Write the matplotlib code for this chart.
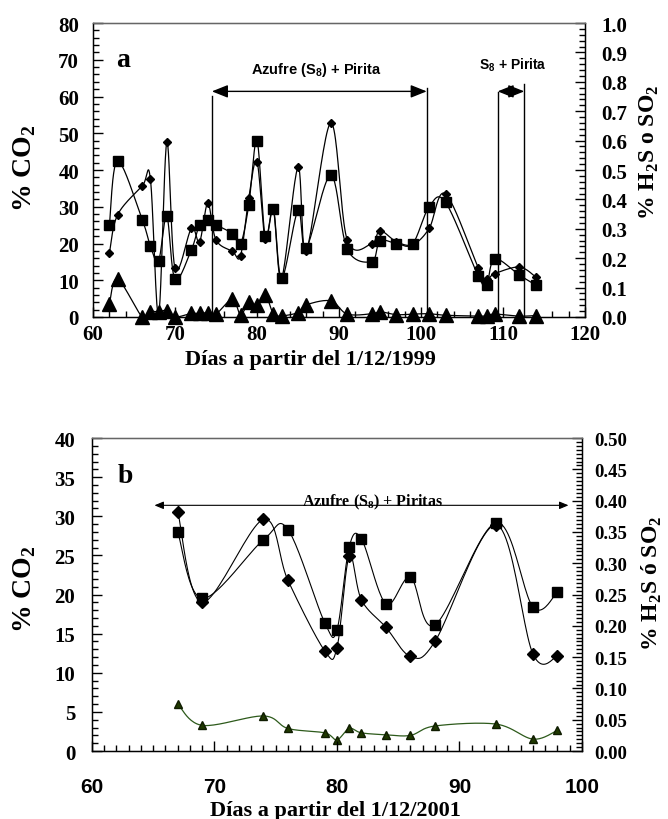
import numpy as np
import matplotlib
matplotlib.use("Agg")
import matplotlib.pyplot as plt
from matplotlib.ticker import MultipleLocator, FormatStrFormatter

plt.rcParams['mathtext.fontset'] = 'custom'
plt.rcParams['mathtext.rm'] = 'Liberation Serif:bold'
plt.rcParams['mathtext.bf'] = 'Liberation Serif:bold'
plt.rcParams['mathtext.sf'] = 'Liberation Sans:bold'

SERIF = 'Liberation Serif'
SANS = 'Liberation Sans'

# ---- panel a (1/12/1999) ----
dias_a = [62, 63, 66, 67, 68, 69, 70, 72, 73, 74, 75, 77, 78, 79, 80, 81, 82,
          83, 85, 86, 89, 91, 94, 95, 97, 99, 101, 103, 107, 108, 109, 112, 114]
cuadros_a = [25, 42.5, 26.5, 19.3, 15.3, 27.4, 10.3, 18.3, 25.1, 26.4, 25.1, 22.7,
             20, 30.5, 48, 22, 29.5, 10.5, 29, 18.7, 38.6, 18.5, 15.1, 20.7, 20,
             20, 30, 31.2, 11.1, 8.7, 15.8, 11.4, 8.7]
rombos_a = [17.4, 27.8, 35.6, 37.6, 0.5, 47.5, 13.3, 24.1, 20.5, 30.9, 21, 17.9,
            16.7, 32.4, 42.3, 21.2, 29, 10.5, 40.7, 18, 52.8, 21, 20, 23.5, 20.5,
            19.7, 24.1, 33.5, 13.4, 10.3, 11.8, 13.6, 10.9]
triang_a = [0.044, 0.129, 0.0, 0.018, 0.018, 0.022, 0.0, 0.012, 0.012, 0.015,
            0.010, 0.061, 0.008, 0.050, 0.041, 0.076, 0.011, 0.004, 0.015, 0.041,
            0.055, 0.010, 0.011, 0.018, 0.008, 0.010, 0.011, 0.006, 0.003, 0.004,
            0.010, 0.003, 0.005]

# ---- panel b (1/12/2001) ----
dias_b = [67, 69, 74, 76, 79, 80, 81, 82, 84, 86, 88, 93, 96, 98]
cuadros_b = [28, 19.5, 27, 28.3, 16.4, 15.5, 26.1, 27.1, 18.8, 22.2, 16.1, 29.2, 18.4, 20.3]
rombos_b = [30.6, 19.0, 29.6, 21.8, 12.8, 13.2, 24.9, 19.3, 15.8, 12.1, 14, 28.9, 12.4, 12.1]
triang_b = [0.075, 0.041, 0.056, 0.036, 0.029, 0.018, 0.036, 0.029, 0.026, 0.025,
            0.040, 0.043, 0.019, 0.033]


def smooth(x, y, n=24):
    """ Excel-like smoothed line through the points (Bezier segments) """
    p = np.column_stack([x, y]).astype(float)
    out = [p[0]]
    t = np.linspace(0, 1, n)[1:, None]
    for i in range(len(p) - 1):
        p0 = p[i - 1] if i > 0 else p[i]
        p3 = p[i + 2] if i + 2 < len(p) else p[i + 1]
        c1 = p[i] + (p[i + 1] - p0) / 6.0
        c2 = p[i + 1] - (p3 - p[i]) / 6.0
        seg = ((1 - t) ** 3) * p[i] + 3 * ((1 - t) ** 2) * t * c1 + 3 * (1 - t) * t ** 2 * c2 + t ** 3 * p[i + 1]
        out.extend(seg)
    out = np.array(out)
    return out[:, 0], out[:, 1]


def serie(ax, x, y, marker, ms, lw=0.9, color='black', mfc='black', mec='black'):
    sx, sy = smooth(x, y)
    ax.plot(sx, sy, color=color, lw=lw, zorder=3)
    ax.plot(x, y, ls='none', marker=marker, ms=ms, mfc=mfc, mec=mec, zorder=4, clip_on=False)


def bold_labels(labels, family, size):
    for lab in labels:
        lab.set_family(family)
        lab.set_weight('bold')
        lab.set_fontsize(size)


fig = plt.figure(figsize=(6.68, 8.2), dpi=100)

# ================= panel a =================
ax = fig.add_axes([0.1392, 0.6122, 0.7365, 0.3585])
ax2 = ax.twinx()
ax.set_xlim(60, 120)
ax.set_ylim(0, 80)
ax2.set_ylim(0, 1.0)
ax.set_zorder(ax2.get_zorder() + 1)
ax.patch.set_visible(False)

serie(ax, dias_a, cuadros_a, 's', 6.5)
serie(ax, dias_a, rombos_a, 'D', 4.3)
serie(ax2, dias_a, triang_a, '^', 9.5)

# zonas
ax.plot([74.5, 74.5], [0, 60.2], color='black', lw=1)
ax.plot([100.7, 100.7], [0, 62.2], color='black', lw=1)
ax.plot([109.35, 109.35], [0, 61.3], color='black', lw=1)
ax.plot([112.6, 112.6], [0, 63.4], color='black', lw=1)
flecha = dict(arrowstyle='<|-|>,head_length=0.75,head_width=0.3', color='black',
              lw=1, mutation_scale=13, shrinkA=0, shrinkB=0)
ax.annotate('', xy=(74.5, 61.4), xytext=(100.7, 61.4), arrowprops=flecha)
ax.annotate('', xy=(109.35, 61.4), xytext=(112.6, 61.4), arrowprops=flecha)
ax.text(87.2, 67.5, r'Azufre (S$_{\mathsf{8}}$) + Pirita', family=SANS, weight='bold',
        fontsize=10.5, ha='center', va='center')
ax.text(111.2, 68.8, r'S$_{\mathsf{8}}$ + Pirita', family=SANS, weight='bold',
        fontsize=10, ha='center', va='center')
ax.text(63.7, 70.2, 'a', family=SERIF, weight='bold', fontsize=20, ha='center', va='center')

ax.xaxis.set_major_locator(MultipleLocator(10))
ax.xaxis.set_minor_locator(MultipleLocator(2))
ax.yaxis.set_major_locator(MultipleLocator(10))
ax.yaxis.set_minor_locator(MultipleLocator(2))
ax2.yaxis.set_major_locator(MultipleLocator(0.1))
ax2.yaxis.set_minor_locator(MultipleLocator(0.02))
ax2.yaxis.set_major_formatter(FormatStrFormatter('%.1f'))
ax.tick_params(axis='both', which='both', direction='in')
ax.tick_params(which='major', length=7, width=1)
ax.tick_params(which='minor', length=4, width=1)
ax.tick_params(axis='y', pad=10)
ax.tick_params(axis='x', pad=5)
ax2.tick_params(which='both', direction='in', width=1)
ax2.tick_params(which='major', length=7, pad=12)
ax2.tick_params(which='minor', length=4)
bold_labels(ax.get_xticklabels() + ax.get_yticklabels() + ax2.get_yticklabels(), SERIF, 15)

ax.set_xlabel('Días a partir del 1/12/1999', family=SERIF, weight='bold', fontsize=16)
ax.xaxis.set_label_coords(0.443, -0.108)
ax.set_ylabel('% CO$_2$', family=SERIF, weight='bold', fontsize=20)
ax.yaxis.set_label_coords(-0.112, 0.51)
ax2.set_ylabel('% H$_2$S o SO$_2$', family=SERIF, weight='bold', fontsize=17, rotation=90)
ax2.yaxis.set_label_coords(1.108, 0.565)
for s in ax.spines.values():
    s.set_linewidth(1)
ax.spines['top'].set_color('#666666')

# ================= panel b =================
bx = fig.add_axes([0.1377, 0.0829, 0.7335, 0.3817])
bx2 = bx.twinx()
bx.set_xlim(60, 100)
bx.set_ylim(0, 40)
bx2.set_ylim(0, 0.5)
bx.set_zorder(bx2.get_zorder() + 1)
bx.patch.set_visible(False)

serie(bx, dias_b, cuadros_b, 's', 6.5, lw=0.8)
serie(bx, dias_b, rombos_b, 'D', 6, lw=0.8)
serie(bx2, dias_b, triang_b, '^', 6, lw=0.9, color='#2d5a1b', mfc='#1f3800', mec='#0f1c00')

flecha_b = dict(arrowstyle='<|-|>,head_length=0.6,head_width=0.25', color='black',
                lw=0.8, mutation_scale=9, shrinkA=0, shrinkB=0)
bx.annotate('', xy=(65.1, 31.4), xytext=(98.9, 31.4), arrowprops=flecha_b)
bx.text(82.9, 31.9, r'Azufre (S$_8$) + Piritas', family=SERIF, weight='bold',
        fontsize=11.5, ha='center', va='center')
bx.text(62.7, 35.2, 'b', family=SERIF, weight='bold', fontsize=20, ha='center', va='center')

bx.xaxis.set_major_locator(MultipleLocator(10))
bx.xaxis.set_minor_locator(MultipleLocator(1))
bx.yaxis.set_major_locator(MultipleLocator(5))
bx.yaxis.set_minor_locator(MultipleLocator(1))
bx2.yaxis.set_major_locator(MultipleLocator(0.05))
bx2.yaxis.set_minor_locator(MultipleLocator(0.00625))
bx2.yaxis.set_major_formatter(FormatStrFormatter('%.2f'))
bx.tick_params(axis='both', which='both', direction='in', width=1)
bx.tick_params(which='major', length=7)
bx.tick_params(which='minor', length=4)
bx.tick_params(axis='y', pad=12)
bx.tick_params(axis='x', pad=19)
bx2.tick_params(which='both', direction='in', width=1)
bx2.tick_params(which='major', length=7, pad=9)
bx2.tick_params(which='minor', length=4)
bold_labels(bx.get_yticklabels(), SERIF, 15)
bold_labels(bx2.get_yticklabels(), SERIF, 13.5)
bold_labels(bx.get_xticklabels(), SANS, 15)

bx.set_xlabel('Días a partir del 1/12/2001', family=SERIF, weight='bold', fontsize=16)
bx.xaxis.set_label_coords(0.496, -0.155)
bx.set_ylabel('% CO$_2$', family=SERIF, weight='bold', fontsize=20)
bx.yaxis.set_label_coords(-0.110, 0.52)
bx2.set_ylabel('% H$_2$S ó SO$_2$', family=SERIF, weight='bold', fontsize=17, rotation=90)
bx2.yaxis.set_label_coords(1.118, 0.54)
for s in bx.spines.values():
    s.set_linewidth(1)
bx.spines['top'].set_color('#666666')

fig.savefig('out.png', dpi=100)
